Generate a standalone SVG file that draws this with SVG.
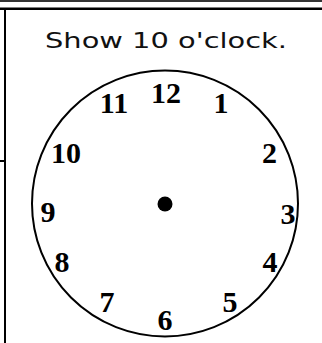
<svg xmlns="http://www.w3.org/2000/svg" width="322" height="343" viewBox="0 0 322 343">
<style>
.num{font-family:"Liberation Serif","Times New Roman",serif;font-weight:bold;font-size:30px;fill:#000;text-anchor:middle}
.title{font-family:"DejaVu Sans","Noto Sans",sans-serif;font-size:22px;fill:#111;text-anchor:middle}
</style>
<rect width="322" height="343" fill="#fff"/>
<g id="frame">
<rect x="0" y="0" width="322" height="2" fill="#333"/>
<rect x="0" y="7.5" width="322" height="2.5" fill="#000"/>
<rect x="4" y="10" width="2" height="333" fill="#000"/>
<rect x="0" y="160" width="5" height="2" fill="#000"/>
</g>
<text class="title" x="166" y="47.5" textLength="242" lengthAdjust="spacingAndGlyphs">Show 10 o'clock.</text>
<g id="clock">
<circle cx="165" cy="203.5" r="133" fill="none" stroke="#000" stroke-width="2"/>
<circle cx="165" cy="204" r="7.5" fill="#000"/>
<text class="num" x="166" y="103">12</text>
<text class="num" x="114" y="113">11</text>
<text class="num" x="221" y="113">1</text>
<text class="num" x="66" y="163">10</text>
<text class="num" x="269.5" y="163">2</text>
<text class="num" x="48" y="222">9</text>
<text class="num" x="288" y="224">3</text>
<text class="num" x="62" y="272">8</text>
<text class="num" x="270" y="272">4</text>
<text class="num" x="107" y="312">7</text>
<text class="num" x="230" y="312">5</text>
<text class="num" x="165" y="330">6</text>
</g>
</svg>
